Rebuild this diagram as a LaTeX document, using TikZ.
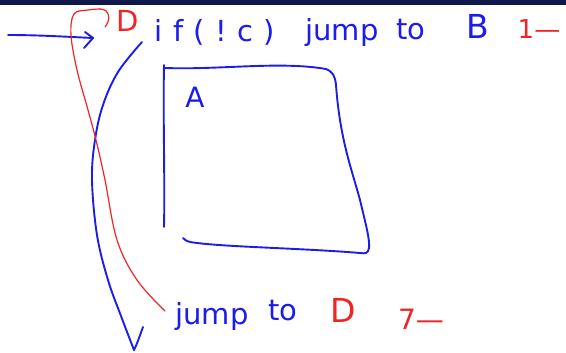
\documentclass[tikz,border=0pt]{standalone}
\usepackage{fontspec}
\setmainfont{DejaVu Sans}
\newfontfamily\spaced[LetterSpace=36]{DejaVu Sans}
\definecolor{pen}{RGB}{28,28,235}
\definecolor{redpen}{RGB}{240,36,36}
\definecolor{band}{RGB}{16,24,74}
\begin{document}
\begin{tikzpicture}[x=1pt,y=-1pt,
  ink/.style={draw=pen,line width=1.9pt,line cap=round,line join=round},
  redink/.style={draw=redpen,line width=1.2pt,line cap=round,line join=round},
  hand/.style={text=pen,font=\fontsize{29}{30}\selectfont,inner sep=0pt},
  redhand/.style={text=redpen,font=\fontsize{29}{30}\selectfont,inner sep=0pt}]
\useasboundingbox (0,0) rectangle (566,353);
\fill[band] (0,0) rectangle (566,5);

% first line: the conditional jump
\node[redhand] (d)    at (128,21) {D};
\node[hand,font=\spaced\fontsize{29}{30}\selectfont] (cond) at (215,32) {if(!c)};
\node[hand]    (jmp1) at (342,32) {jump};
\node[hand]    (to1)  at (411,30) {to};
\node[hand,font=\fontsize{33}{34}\selectfont] (b) at (478,26) {B};
\node[redhand,font=\fontsize{26}{28}\selectfont] (n1) at (539,29) {1—};

% block A
\draw[ink] (164,65) .. controls (163,120) and (165,180) .. (164,227);
\draw[ink] (165,68) .. controls (220,70) and (280,61) .. (326,69)
  .. controls (333,72) and (335,76) .. (336,85)
  .. controls (340,140) and (352,170) .. (360,200)
  .. controls (366,225) and (370,240) .. (369,248)
  .. controls (368,253) and (366,254) .. (360,253)
  .. controls (300,248) and (220,247) .. (190,242)
  .. controls (186,241) and (184,239) .. (183,238);
\node[hand,font=\fontsize{28}{30}\selectfont] (a) at (195,97) {A};

% second line: the unconditional jump
\node[hand]    (jmp2) at (212,316) {jump};
\node[hand]    (to2)  at (283,311) {to};
\node[redhand,font=\fontsize{33}{34}\selectfont] (d2) at (343,310) {D};
\node[redhand,font=\fontsize{28}{30}\selectfont] (n7) at (421,319) {7—};

% entry arrow
\coordinate (entry) at (8,35);
\draw[ink] (entry) .. controls (40,35) and (70,37) .. (93,38);
\draw[ink] (85,32) -- (93,38) -- (84,48);

% jump past A when the condition fails
\draw[ink] plot[smooth,tension=0.6] coordinates
  {(142,42) (118,72) (103,105) (95,140) (92,180) (97,235) (108,280) (121,316) (134,350)};
\draw[ink] (143,327) .. controls (139,338) and (137,344) .. (134,350);

% jump back to D
\draw[redink] plot[smooth,tension=0.6] coordinates
  {(165,311) (137,280) (117,240) (105,180) (96,140) (88,110) (77,70) (71,35) (74,14) (88,10) (100,9)};
\draw[redink] (100,9) .. controls (110,9) and (111,20) .. (105,27);
\end{tikzpicture}
\end{document}
